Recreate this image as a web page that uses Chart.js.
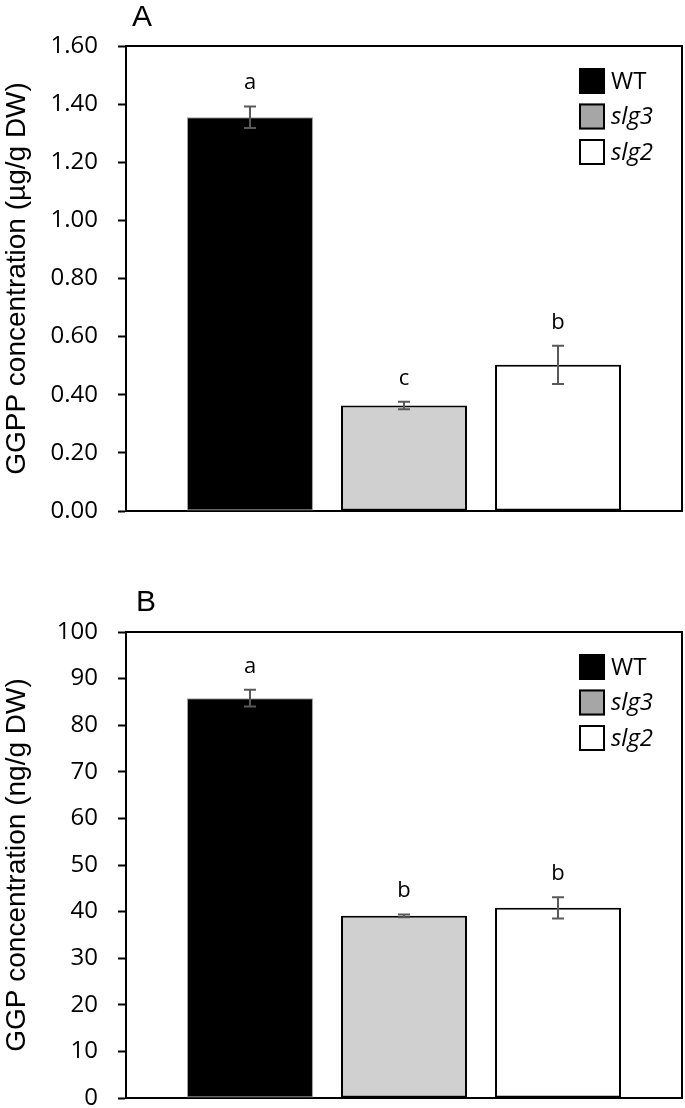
<!DOCTYPE html>
<html>
<head>
<meta charset="utf-8">
<script src="https://cdn.jsdelivr.net/npm/chart.js@4.4.0/dist/chart.umd.min.js"></script>
<style>
  body { margin: 0; background: #fff; width: 685px; height: 1108px; position: relative; overflow: hidden; }
  .panel { position: absolute; left: 0; width: 685px; }
  .tag { position: absolute; font-family: "Liberation Sans", Arial, sans-serif; font-size: 30px; line-height: 1; color: #000; }
</style>
</head>
<body>
<div class="panel" style="top:0;height:560px"><canvas id="chartA" width="685" height="560"></canvas></div>
<div class="panel" style="top:560px;height:574px"><canvas id="chartB" width="685" height="574"></canvas></div>
<div class="tag" style="left:132px;top:1px">A</div>
<div class="tag" style="left:136px;top:586px">B</div>
<script>
// genotypes (one dataset each)
const genotypes = ['WT', 'slg3', 'slg2'];

// panel A: GGPP (µg/g DW)
const ggppValues = [1.355, 0.363, 0.503];
const ggppErrors = [0.037, 0.013, 0.066];
const ggppLetters = ['a', 'c', 'b'];

// panel B: GGP (ng/g DW)
const ggpValues = [85.8, 39.1, 40.8];
const ggpErrors = [1.8, 0.3, 2.3];
const ggpLetters = ['a', 'b', 'b'];

const barFills = ['#000000', '#d0d0d0', '#ffffff'];
const barBorders = ['#a0a0a0', '#000000', '#000000'];
const barBorderWidths = [1, 2, 2];
const legendFills = ['#000000', '#a6a6a6', '#ffffff'];

// error bars, significance letters, frame and the in-plot legend
const extras = {
  id: 'extras',
  afterDatasetsDraw(chart, args, opts) {
    const ctx = chart.ctx;
    const y = chart.scales.y;
    chart.data.datasets.forEach((ds, i) => {
      const bar = chart.getDatasetMeta(i).data[0];
      const v = ds.data[0];
      const e = opts.errors[i];
      const top = y.getPixelForValue(v + e);
      const bot = y.getPixelForValue(v - e);
      ctx.save();
      ctx.strokeStyle = '#595959';
      ctx.lineWidth = 2;
      ctx.beginPath();
      ctx.moveTo(bar.x, top); ctx.lineTo(bar.x, bot);
      ctx.moveTo(bar.x - 6, top); ctx.lineTo(bar.x + 6, top);
      ctx.moveTo(bar.x - 6, bot); ctx.lineTo(bar.x + 6, bot);
      ctx.stroke();
      ctx.fillStyle = '#000';
      ctx.font = '22px "Open Sans"';
      ctx.textAlign = 'center';
      ctx.textBaseline = 'alphabetic';
      ctx.fillText(opts.letters[i], bar.x, top - 17);
      ctx.restore();
    });
  },
  afterDraw(chart) {
    const ctx = chart.ctx;
    const ca = chart.chartArea;
    ctx.save();
    ctx.strokeStyle = '#000';
    ctx.lineWidth = 2;
    ctx.beginPath();
    ctx.moveTo(ca.left, ca.top);
    ctx.lineTo(ca.right, ca.top);
    ctx.lineTo(ca.right, ca.bottom);
    ctx.stroke();
    chart.data.datasets.forEach((ds, i) => {
      const x = ca.right - 103;
      const yy = ca.top + 22 + i * 35.5;
      ctx.fillStyle = legendFills[i];
      ctx.fillRect(x, yy, 26, 26);
      ctx.strokeRect(x + 1, yy + 1, 24, 24);
      ctx.fillStyle = '#000';
      ctx.font = (i ? 'italic ' : '') + '24px "Open Sans"';
      ctx.textAlign = 'left';
      ctx.textBaseline = 'middle';
      ctx.fillText(ds.label, x + 32, yy + 14);
    });
    ctx.restore();
  }
};

const makeChart = (id, values, errors, letters, yMax, step, decimals, yTitle, padTop, padBottom) => new Chart(document.getElementById(id), {
  type: 'bar',
  data: {
    labels: [''],
    datasets: genotypes.map((g, i) => ({
      label: g,
      data: [values[i]],
      backgroundColor: barFills[i],
      borderColor: barBorders[i],
      borderWidth: barBorderWidths[i],
      borderSkipped: false,
      barPercentage: 0.818,
      categoryPercentage: 0.831
    }))
  },
  options: {
    responsive: false,
    animation: false,
    layout: { padding: { top: padTop, right: 3, bottom: padBottom, left: 0 } },
    plugins: {
      legend: { display: false },
      tooltip: { enabled: false },
      extras: { errors: errors, letters: letters }
    },
    scales: {
      x: {
        grid: { display: false },
        ticks: { display: false },
        border: { color: '#000', width: 2 },
        afterFit: (s) => { s.height = 0; }
      },
      y: {
        min: 0,
        max: yMax,
        ticks: {
          stepSize: step,
          color: '#000',
          padding: 20,
          font: { family: 'Open Sans', size: 24 },
          callback: (v) => v.toFixed(decimals)
        },
        grid: { drawOnChartArea: false, tickLength: 8, tickColor: '#000', tickWidth: 2 },
        border: { color: '#000', width: 2 },
        title: {
          display: true,
          text: yTitle,
          color: '#000',
          padding: 0,
          font: { family: 'Liberation Sans', size: 28 }
        },
        afterFit: (s) => { s.width = 126; }
      }
    }
  },
  plugins: [extras]
});

makeChart('chartA', ggppValues, ggppErrors, ggppLetters, 1.6, 0.2, 2, 'GGPP concentration (µg/g DW)', 46, 49);
makeChart('chartB', ggpValues, ggpErrors, ggpLetters, 100, 10, 0, 'GGP concentration (ng/g DW)', 72, 36);
</script>
</body>
</html>
